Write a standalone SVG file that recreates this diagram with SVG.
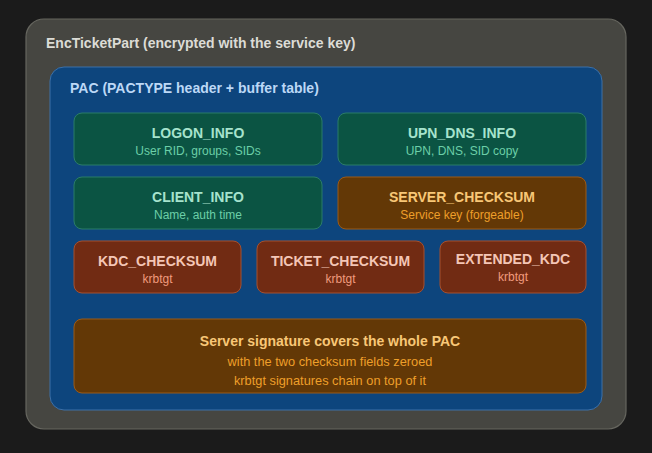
<svg xmlns="http://www.w3.org/2000/svg" width="652" height="453" viewBox="0 0 652 453">
<style>
text{font-family:"Liberation Sans",Arial,sans-serif}
.t{font-size:14px;font-weight:bold;text-anchor:middle}
.s{font-size:12px;text-anchor:middle}
.s2{font-size:12.8px}
.g rect{fill:#0b5443;stroke:#2b7c69;stroke-width:1}
.g .t{fill:#a6e3cd}.g .s{fill:#6ccfa8}
.o rect{fill:#633806;stroke:#9c5a17;stroke-width:1}
.o .t{fill:#f8c777}.o .s{fill:#ee9f2a}
.r rect{fill:#712b13;stroke:#a6502f;stroke-width:1}
.r .t{fill:#f4c6b6}.r .s{fill:#f09a7d}
</style>
<rect width="652" height="453" fill="#1b1b1b"/>
<g id="encticketpart">
<rect x="26" y="19" width="600" height="410" rx="18" fill="#464641" stroke="#66665f" stroke-width="1.2"/>
<text x="46" y="48" font-size="14" font-weight="bold" fill="#dcdcd6">EncTicketPart (encrypted with the service key)</text>
</g>
<g id="pac">
<rect x="50" y="67" width="552" height="343" rx="14" fill="#0d457d" stroke="#3c70a8" stroke-width="1"/>
<text x="70" y="93" font-size="14" font-weight="bold" fill="#bcd8f6">PAC (PACTYPE header + buffer table)</text>
</g>
<g id="logon_info" class="g">
<rect x="74" y="113" width="248" height="52" rx="8"/>
<text class="t" x="198" y="138">LOGON_INFO</text>
<text class="s" x="198" y="155">User RID, groups, SIDs</text>
</g>
<g id="upn_dns_info" class="g">
<rect x="338" y="113" width="248" height="52" rx="8"/>
<text class="t" x="462" y="138">UPN_DNS_INFO</text>
<text class="s" x="462" y="155">UPN, DNS, SID copy</text>
</g>
<g id="client_info" class="g">
<rect x="74" y="177" width="248" height="52" rx="8"/>
<text class="t" x="198" y="202">CLIENT_INFO</text>
<text class="s" x="198" y="219">Name, auth time</text>
</g>
<g id="server_checksum" class="o">
<rect x="338" y="177" width="248" height="52" rx="8"/>
<text class="t" x="462" y="202">SERVER_CHECKSUM</text>
<text class="s" x="462" y="219">Service key (forgeable)</text>
</g>
<g id="kdc_checksum" class="r">
<rect x="74" y="241" width="167" height="52" rx="8"/>
<text class="t" x="157.5" y="266">KDC_CHECKSUM</text>
<text class="s" x="157.5" y="283">krbtgt</text>
</g>
<g id="ticket_checksum" class="r">
<rect x="257" y="241" width="167" height="52" rx="8"/>
<text class="t" x="340.5" y="266">TICKET_CHECKSUM</text>
<text class="s" x="340.5" y="283">krbtgt</text>
</g>
<g id="extended_kdc" class="r">
<rect x="440" y="241" width="146" height="52" rx="8"/>
<text class="t" x="513" y="264">EXTENDED_KDC</text>
<text class="s" x="513" y="281">krbtgt</text>
</g>
<g id="server_signature" class="o">
<rect x="74" y="319" width="512" height="74" rx="8"/>
<text class="t" x="330" y="346">Server signature covers the whole PAC</text>
<text class="s s2" x="330" y="366">with the two checksum fields zeroed</text>
<text class="s s2" x="330" y="385">krbtgt signatures chain on top of it</text>
</g>
<g id="connectors"/>
</svg>
